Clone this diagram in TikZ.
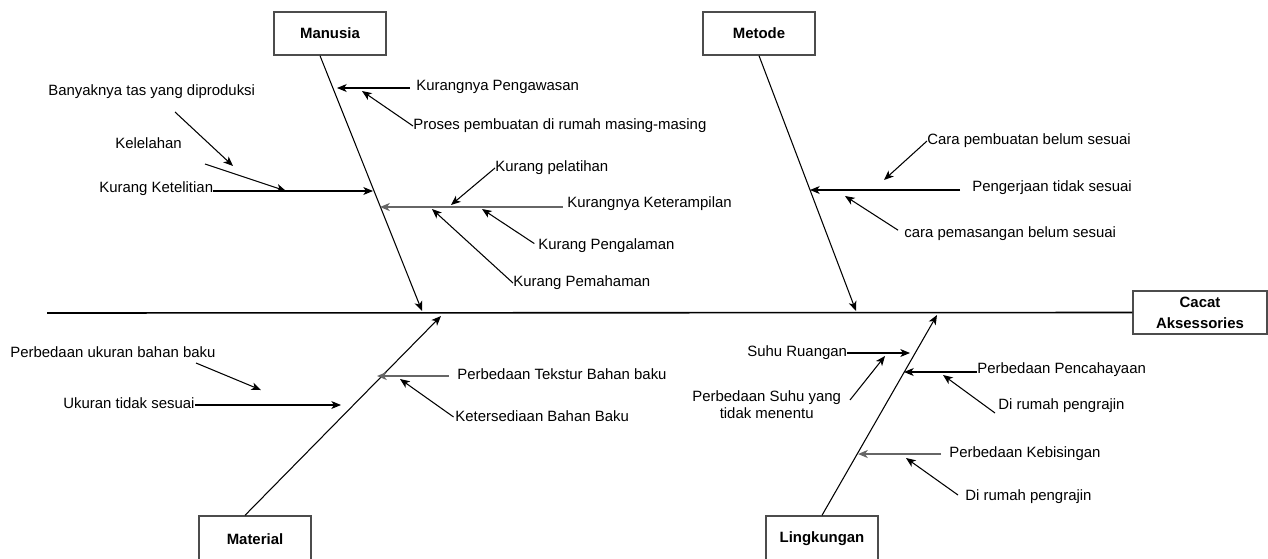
\documentclass[tikz,border=0pt]{standalone}
\usepackage{fontspec}
\setmainfont{Liberation Sans}
\usetikzlibrary{arrows.meta, positioning}

\begin{document}
\begin{tikzpicture} [
						x=0.02cm, y=-0.02cm,
						font=\fontsize{8.5}{10}\selectfont,
						cat/.style={draw=black!70, line width=0.8pt, minimum width=2.24cm,
							minimum height=0.86cm, font=\fontsize{8.5}{12}\selectfont\bfseries},
						lbl/.style={anchor=west, inner sep=0pt, text height=6.1pt, text depth=1.8pt},
						arr/.style={-{Stealth[length=5.5pt, width=4.5pt, inset=1.5pt]}, line width=0.6pt},
						bar/.style={draw=black!60, line width=0.9pt}
					]

\useasboundingbox (0,0) rectangle (1268,558);
\clip (0,0) rectangle (1268,558);

\node (manusia) [cat] at (330,33.5) {Manusia};
\node (metode) [cat] at (759,33.5) {Metode};
\node (material) [cat, minimum height=0.92cm] at (255,539) {Material};
\node (lingkungan) [cat, minimum height=0.92cm] at (822,539) {Lingkungan};
\node (cacat) [cat, minimum width=2.68cm, align=center] at (1200,312.5) {Cacat\\Aksessories};

\coordinate (ekor) at (47,313);
\coordinate (m0) at (422,311);
\coordinate (t0) at (856,311);
\coordinate (b0) at (441,316);
\coordinate (l0) at (937,315);

\draw[line width=0.9pt] (ekor) -- (cacat.west);

\path[arr]
	([xshift=-0.2cm]manusia.south) edge (m0)
	(metode.south) edge (t0)
	([xshift=-0.2cm]material.north) edge (b0)
	(lingkungan.north) edge (l0);

\node (kpw) [lbl] at (416,87) {Kurangnya Pengawasan};
\node (proses) [lbl] at (413,126) {Proses pembuatan di rumah masing-masing};
\node (banyak) [lbl] at (48,92) {Banyaknya tas yang diproduksi};
\node (lelah) [lbl] at (115,145) {Kelelahan};
\node (teliti) [lbl] at (99,189) {Kurang Ketelitian};
\node (latih) [lbl] at (495,168) {Kurang pelatihan};
\node (terampil) [lbl] at (567,204) {Kurangnya Keterampilan};
\node (alami) [lbl] at (538,246) {Kurang Pengalaman};
\node (paham) [lbl] at (513,283) {Kurang Pemahaman};

\node (carabuat) [lbl] at (927,141) {Cara pembuatan belum sesuai};
\node (kerja) [lbl] at (972,188) {Pengerjaan tidak sesuai};
\node (carapasang) [lbl] at (904,234) {cara pemasangan belum sesuai};

\node (ukbeda) [lbl] at (10,354) {Perbedaan ukuran bahan baku};
\node (ukuran) [lbl] at (63,405) {Ukuran tidak sesuai};
\node (tekstur) [lbl] at (457,376) {Perbedaan Tekstur Bahan baku};
\node (sedia) [lbl] at (455,418) {Ketersediaan Bahan Baku};

\node (suhu) [lbl] at (747,353) {Suhu Ruangan};
\node (suhubeda) [lbl, align=center, text height=, text depth=] at (692,404.5) {Perbedaan Suhu yang\\tidak menentu};
\node (cahaya) [lbl] at (977,370) {Perbedaan Pencahayaan};
\node (rumah1) [lbl] at (998,406) {Di rumah pengrajin};
\node (bising) [lbl] at (949,454) {Perbedaan Kebisingan};
\node (rumah2) [lbl] at (965,497) {Di rumah pengrajin};

\coordinate (m1) at (337,88);
\coordinate (m2) at (362,91);
\coordinate (m3a) at (175,112);
\coordinate (m3) at (233,166);
\coordinate (m4a) at (205,164);
\coordinate (m4) at (286,191);
\coordinate (m5) at (373,191);
\coordinate (m6a) at (563,207);
\coordinate (m6) at (380,207);
\coordinate (m7) at (451,205);
\coordinate (m8) at (482,209);
\coordinate (m9) at (432,209);

\coordinate (t1) at (884,180);
\coordinate (t2a) at (960,190);
\coordinate (t2) at (810,190);
\coordinate (t3) at (845,196);

\coordinate (b1a) at (196,363);
\coordinate (b1) at (261,390);
\coordinate (b2) at (341,405);
\coordinate (b3a) at (449,376);
\coordinate (b3) at (377,376);
\coordinate (b4) at (400,379);

\coordinate (l1) at (910,353);
\coordinate (l2a) at (850,400);
\coordinate (l2) at (885,356);
\coordinate (l3) at (904,372);
\coordinate (l4a) at (995,413);
\coordinate (l4) at (943,375);
\coordinate (l5a) at (941,454);
\coordinate (l5) at (858,454);
\coordinate (l6a) at (958,495);
\coordinate (l6) at (906,458);

\path[arr]
	(kpw.west |- m1) edge [shorten <=3.4pt] (m1)
	(proses.west) edge (m2)
	(m3a) edge (m3)
	(m4a) edge (m4)
	(teliti.east |- m5) edge (m5)
	(m6a) edge [bar] (m6)
	(latih.west) edge (m7)
	(alami.west) edge [shorten <=2.5pt] (m8)
	(paham.west) edge (m9)
	(carabuat.west) edge (t1)
	(t2a) edge (t2)
	(carapasang.west) edge [shorten <=4pt] (t3)
	(b1a) edge (b1)
	(ukuran.east) edge (b2)
	(b3a) edge [bar] (b3)
	(sedia.west) edge [shorten <=1pt] (b4)
	(suhu.east) edge (l1)
	(l2a) edge (l2)
	(cahaya.west |- l3) edge (l3)
	(l4a) edge (l4)
	(l5a) edge [bar] (l5)
	(l6a) edge (l6);
\end{tikzpicture}
\end{document}
